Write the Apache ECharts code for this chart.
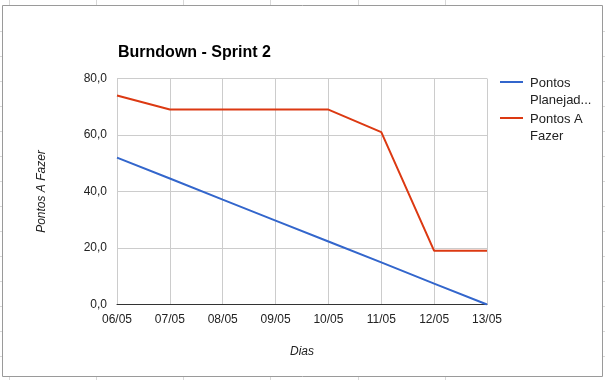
<!DOCTYPE html>
<html>
<head>
<meta charset="utf-8">
<script src="https://cdn.jsdelivr.net/npm/echarts@6/dist/echarts.min.js"></script>
<style>
html,body{margin:0;padding:0;background:#fff;}
#c{width:605px;height:380px;}
</style>
</head>
<body>
<div id="c"></div>
<script>
const categories = ['06/05','07/05','08/05','09/05','10/05','11/05','12/05','13/05'];
const planejados = [52, 44.6, 37.1, 29.7, 22.3, 14.9, 7.4, 0];
const aFazer = [74, 69, 69, 69, 69, 61, 19, 19];
const seriesNames = ['Pontos Planejados', 'Pontos A Fazer'];
const legendLabels = ['Pontos\nPlanejad...', 'Pontos A\nFazer'];
const colors = ['#3366cc', '#dc3912'];

const chart = echarts.init(document.getElementById('c'), null, {renderer: 'canvas'});

// spreadsheet background stubs and chart frame
const bg = [];
[9.5, 96.5, 183.5, 270.5, 358.5, 445.5].forEach(x => {
  bg.push({type:'line', shape:{x1:x,y1:0,x2:x,y2:5}, style:{stroke:'#d8d8d8',lineWidth:1}, silent:true});
  bg.push({type:'line', shape:{x1:x,y1:377,x2:x,y2:380}, style:{stroke:'#d8d8d8',lineWidth:1}, silent:true});
});
for (let y = 31.5; y < 377; y += 25) {
  bg.push({type:'line', shape:{x1:0,y1:y,x2:2,y2:y}, style:{stroke:'#d8d8d8',lineWidth:1}, silent:true});
  bg.push({type:'line', shape:{x1:603,y1:y,x2:605,y2:y}, style:{stroke:'#d8d8d8',lineWidth:1}, silent:true});
}
bg.push({type:'rect', shape:{x:2.5,y:5.5,width:600,height:371}, style:{fill:'none',stroke:'#9a9a9a',lineWidth:1}, silent:true});

// legend (icons aligned with first text line, as in the reference)
const legendTops = [82, 118];
legendLabels.forEach((lab, i) => {
  bg.push({type:'rect', shape:{x:500, y:legendTops[i]-1, width:23, height:2}, style:{fill:colors[i]}, silent:true});
  bg.push({type:'text', x:530, y:legendTops[i]-7, style:{text:lab, fill:'#222', font:'13px "Liberation Sans", Arial', lineHeight:17, textVerticalAlign:'top'}, silent:true});
});

chart.setOption({
  backgroundColor: '#fff',
  animation: false,
  color: colors,
  graphic: bg,
  title: {
    text: 'Burndown - Sprint 2',
    left: 113, top: 40,
    textStyle: {fontFamily: 'Liberation Sans, Arial', fontSize: 16, fontWeight: 'bold', color: '#000'}
  },
  grid: {left: 117, right: 118, top: 78.5, bottom: 75.5, containLabel: false},
  xAxis: {
    type: 'category',
    data: categories,
    boundaryGap: false,
    name: 'Dias',
    nameLocation: 'middle',
    nameGap: 41,
    nameTextStyle: {fontFamily: 'Liberation Sans, Arial', fontSize: 12, fontStyle: 'italic', color: '#222'},
    axisLine: {show: true, lineStyle: {color: '#333', width: 1}},
    axisTick: {show: false},
    axisLabel: {fontFamily: 'Liberation Sans, Arial', fontSize: 12, color: '#222', margin: 9, interval: 0},
    splitLine: {show: true, lineStyle: {color: '#cccccc', width: 1}}
  },
  yAxis: {
    type: 'value',
    min: 0, max: 80, interval: 20,
    name: 'Pontos A Fazer',
    nameLocation: 'middle',
    nameGap: 69,
    nameTextStyle: {fontFamily: 'Liberation Sans, Arial', fontSize: 12, fontStyle: 'italic', color: '#222'},
    axisLine: {show: false},
    axisTick: {show: false},
    axisLabel: {fontFamily: 'Liberation Sans, Arial', fontSize: 12, color: '#222', margin: 10,
      formatter: v => v.toFixed(1).replace('.', ',')},
    splitLine: {show: true, lineStyle: {color: '#cccccc', width: 1}}
  },
  series: [
    {name: seriesNames[0], type: 'line', data: planejados, symbol: 'none', lineStyle: {width: 2}, z: 3},
    {name: seriesNames[1], type: 'line', data: aFazer, symbol: 'none', lineStyle: {width: 2}, z: 4}
  ]
});
</script>
</body>
</html>
